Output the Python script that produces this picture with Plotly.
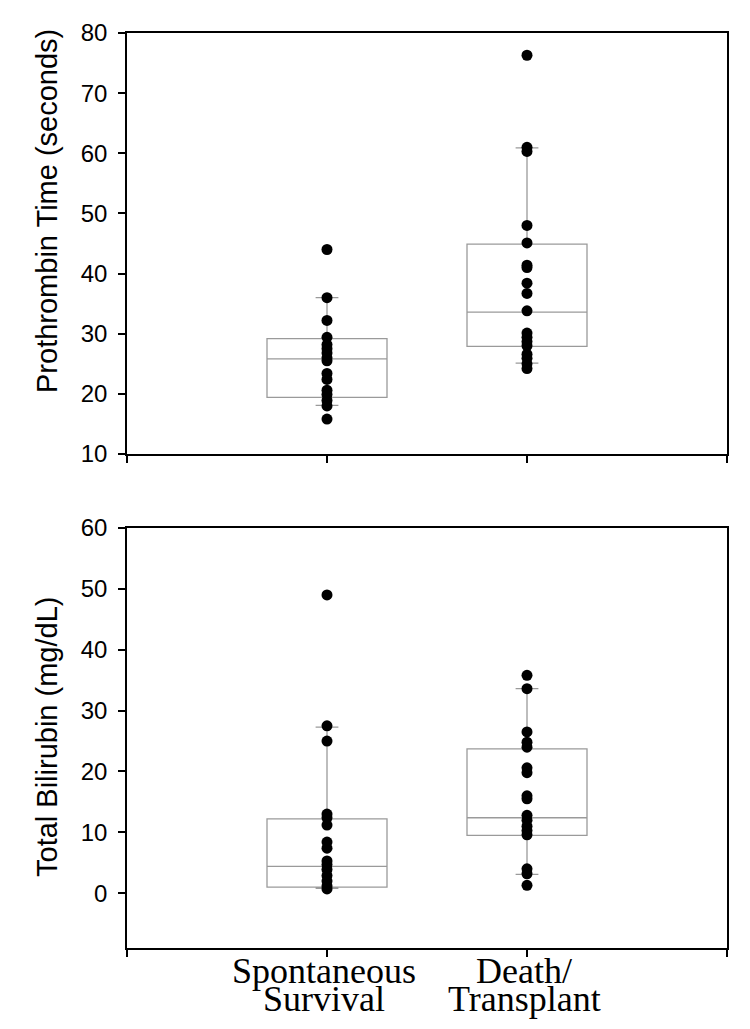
import plotly.graph_objects as go

# ---------------- data ----------------
cat_x = [1, 2]
cat_lines = [["Spontaneous", "Survival"], ["Death/", "Transplant"]]

# Prothrombin time (seconds)
pt_survival = [44.0, 36.0, 32.2, 29.4, 28.2, 27.5, 26.8, 26.0, 25.5, 23.4, 22.4, 20.6, 19.9, 18.9, 18.0, 15.8]
pt_death = [76.3, 61.0, 60.3, 48.0, 45.1, 41.4, 41.0, 38.4, 36.7, 33.8, 30.1, 29.4, 28.7, 28.0, 26.6, 25.9, 25.0, 24.2]
pt_q1 = [19.4, 27.9]
pt_median = [25.8, 33.6]
pt_q3 = [29.2, 44.9]
pt_low = [18.1, 25.1]
pt_high = [36.0, 60.9]

# Total bilirubin (mg/dL)
tb_survival = [49.0, 27.5, 25.0, 13.0, 12.4, 11.2, 8.4, 7.4, 5.3, 4.7, 3.9, 2.9, 2.0, 1.2, 0.7]
tb_death = [35.8, 33.6, 26.5, 24.8, 24.0, 20.6, 19.8, 16.0, 15.5, 12.8, 12.0, 11.0, 10.3, 9.6, 4.0, 3.2, 1.3]
tb_q1 = [1.0, 9.5]
tb_median = [4.4, 12.4]
tb_q3 = [12.2, 23.7]
tb_low = [0.8, 3.1]
tb_high = [27.3, 33.6]

pt_ticks = [10, 20, 30, 40, 50, 60, 70, 80]
tb_ticks = [0, 10, 20, 30, 40, 50, 60]

# ---------------- layout geometry ----------------
# the page body has an 8px margin, so the figure is drawn 8px right/down
OFF = 8
W, H = 750 - OFF, 1029 - OFF
ML, MR, MT, MB = 127 - OFF, 23, 33 - OFF, 81
PH = H - MT - MB


def py(ref_pix):
    return 1 - (ref_pix - OFF - MT) / PH


BOX_LINE = dict(color="#9a9a9a", width=1.3)
SANS = "Arial, Liberation Sans, sans-serif"
SERIF = "Times New Roman, Liberation Serif, serif"

fig = go.Figure()


def add_panel(xa, ya, q1, med, q3, lo, hi, groups):
    fig.add_trace(go.Box(
        x=cat_x, q1=q1, median=med, q3=q3, lowerfence=lo, upperfence=hi,
        xaxis=xa, yaxis=ya, width=0.6, whiskerwidth=0.19,
        line=BOX_LINE, fillcolor="rgba(0,0,0,0)", boxpoints=False,
        showlegend=False, hoverinfo="skip"))
    for cx, vals in zip(cat_x, groups):
        fig.add_trace(go.Scatter(
            x=[cx] * len(vals), y=vals, mode="markers", xaxis=xa, yaxis=ya,
            marker=dict(color="black", size=11, line=dict(width=0)),
            showlegend=False, hoverinfo="skip"))


add_panel("x", "y", pt_q1, pt_median, pt_q3, pt_low, pt_high, [pt_survival, pt_death])
add_panel("x2", "y2", tb_q1, tb_median, tb_q3, tb_low, tb_high, [tb_survival, tb_death])

axis_common = dict(showline=True, linecolor="black", linewidth=1.6, mirror=True,
                   ticks="outside", ticklen=7, tickwidth=1.5, tickcolor="black",
                   showgrid=False, zeroline=False)

xcommon = dict(axis_common, range=[0, 3], tickvals=[0, 1, 2, 3], ticktext=[""] * 4)
ycommon = dict(axis_common, tickfont=dict(family=SANS, size=24, color="black"),
               ticklabelstandoff=6)

fig.update_layout(
    width=W, height=H,
    margin=dict(l=ML, r=MR, t=MT, b=MB),
    paper_bgcolor="white", plot_bgcolor="white",
    xaxis=dict(xcommon, domain=[0, 1], anchor="y"),
    yaxis=dict(ycommon, domain=[py(454), 1], range=[10, 80], tickvals=pt_ticks),
    xaxis2=dict(xcommon, domain=[0, 1], anchor="y2"),
    yaxis2=dict(ycommon, domain=[0, py(528)], range=[-9, 60], tickvals=tb_ticks),
)

# y-axis titles
fig.add_annotation(text="Prothrombin Time (seconds)", xref="paper", yref="paper",
                   x=0, xshift=47 - 127, y=py(211), textangle=-90,
                   xanchor="center", yanchor="middle", showarrow=False,
                   font=dict(family=SANS, size=29, color="black"))
fig.add_annotation(text="Total Bilirubin (mg/dL)", xref="paper", yref="paper",
                   x=0, xshift=47 - 127, y=py(737), textangle=-90,
                   xanchor="center", yanchor="middle", showarrow=False,
                   font=dict(family=SANS, size=29, color="black"))

# category labels (two lines each), centres in reference pixels
line_centres = [971, 999]
for cx, lines in zip(cat_x, cat_lines):
    for txt, yc in zip(lines, line_centres):
        fig.add_annotation(text=txt, xref="x2", yref="paper", x=cx, xshift=-3,
                           y=0, yshift=948 - yc, xanchor="center", yanchor="middle",
                           showarrow=False,
                           font=dict(family=SERIF, size=36, color="black"))

fig.write_html("out.html")
